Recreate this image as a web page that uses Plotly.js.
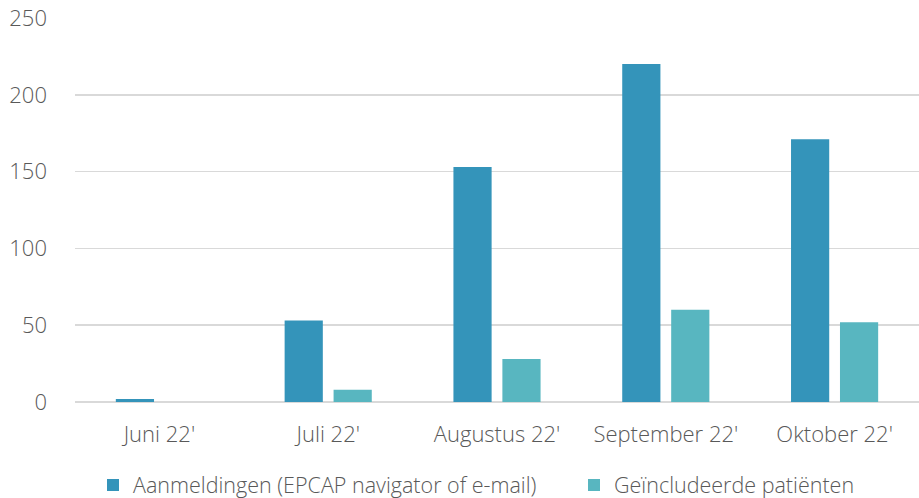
<!DOCTYPE html>
<html>
<head>
<meta charset="utf-8">
<script src="https://cdn.plot.ly/plotly-3.0.1.min.js"></script>
<style>html,body{margin:0;padding:0;background:#fff;}#chart{width:919px;height:498px;}</style>
</head>
<body>
<div id="chart"></div>
<script>
const categories = ["Juni 22'", "Juli 22'", "Augustus 22'", "September 22'", "Oktober 22'"];
const aanmeldingen = [2, 53, 153, 220, 171];
const geincludeerd = [0, 8, 28, 60, 52];
const seriesNames = ["Aanmeldingen (EPCAP navigator of e-mail)", "Geïncludeerde patiënten"];
const yTicks = [0, 50, 100, 150, 200, 250];

const font = {family: "Open Sans, Segoe UI, sans-serif", size: 22, color: "#595959", weight: 300};
const legendFont = Object.assign({}, font, {size: 21.5});

const data = [
  {type: "bar", x: categories, y: aanmeldingen, name: seriesNames[0], marker: {color: "#3494BA"}, legend: "legend"},
  {type: "bar", x: categories, y: geincludeerd, name: seriesNames[1], marker: {color: "#58B6C0"}, legend: "legend2"}
];

const legendBase = {orientation: "h", xref: "container", yref: "container", y: 0.026, yanchor: "middle",
                    xanchor: "left", font: legendFont, itemwidth: 30, bgcolor: "rgba(0,0,0,0)"};

const layout = {
  width: 919, height: 498,
  margin: {l: 75, r: 0, t: 18, b: 96, autoexpand: false},
  paper_bgcolor: "#fff", plot_bgcolor: "#fff",
  font: font,
  barmode: "group",
  bargap: 0.42,
  bargroupgap: 0.22,
  xaxis: {showgrid: false, showline: false, ticks: "", tickfont: font, ticklabelstandoff: 17, automargin: false},
  yaxis: {range: [0, 250], tickvals: yTicks, showgrid: true, gridcolor: "#d9d9d9", gridwidth: 1.5, automargin: false,
          zeroline: true, zerolinecolor: "#d9d9d9", zerolinewidth: 1.5, tickfont: font, ticks: "", ticklabelstandoff: 27},
  showlegend: true,
  legend: Object.assign({}, legendBase, {x: 93 / 919}),
  legend2: Object.assign({}, legendBase, {x: 574 / 919})
};

Plotly.newPlot("chart", data, layout, {displayModeBar: false, staticPlot: true});
</script>
</body>
</html>
